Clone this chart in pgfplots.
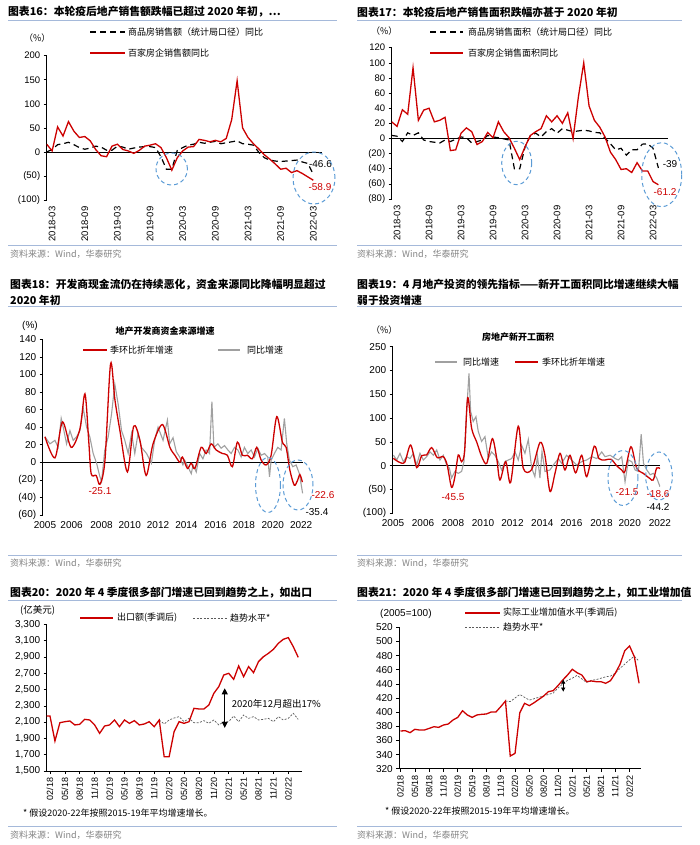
\documentclass[border=0pt]{standalone}
\usepackage{pgfplots}
\pgfplotsset{compat=1.18}
\usepackage{fontspec}
\setmainfont{Liberation Sans}
\newfontfamily\cjk{Noto Sans CJK SC}
\usetikzlibrary{arrows.meta}

\definecolor{hred}{RGB}{204,0,0}
\definecolor{hgrey}{RGB}{160,160,160}
\definecolor{hblue}{RGB}{91,155,213}
\definecolor{hrule}{RGB}{165,185,218}
\definecolor{hsrc}{RGB}{130,130,130}
\definecolor{htrend}{RGB}{90,90,90}

\pgfplotsset{
  hstyle/.style={
    scale only axis, anchor=south west,
    axis y line*=left, axis x line*=bottom,
    tick align=outside, major tick length=3pt,
    axis line style={line width=0.6pt},
    every tick/.style={black, line width=0.6pt},
    ticklabel style={font=\fontsize{9.5}{10}\selectfont},
    /pgf/number format/assume math mode=true,
  },
  nozero/.style={x axis line style={draw=none}, major x tick style={draw=none}},
}
\tikzset{
  T/.style={anchor=west, inner sep=0pt, font={\cjk\bfseries\fontsize{10.8}{12}\selectfont}},
  R/.style={draw=hrule, line width=0.8pt},
  S/.style={anchor=west, inner sep=0pt, text=hsrc, font={\cjk\fontsize{9}{10}\selectfont}},
  L/.style={anchor=west, inner sep=0pt, font={\cjk\fontsize{9}{10}\selectfont}},
  N/.style={inner sep=0pt, font={\fontsize{10}{11}\selectfont}},
  E/.style={draw=hblue, line width=1pt, dash pattern=on 4pt off 3pt},
  blk/.style={black, line width=1.2pt, dash pattern=on 6pt off 4pt},
  rd/.style={hred, line width=1.3pt},
  gy/.style={hgrey, line width=1.1pt},
  tr/.style={htrend, line width=0.7pt, dash pattern=on 2pt off 1.5pt},
}

\begin{document}
\begin{tikzpicture}
\useasboundingbox (0,0) rectangle (700pt,-845pt);

% ---------------- panel 16
\begin{axis}[hstyle, nozero, at={(46.7pt,-200pt)}, width=275.3pt, height=144.3pt,
  xmin=-1, xmax=49.6, ymin=-100, ymax=200,
  ytick={-100,-50,...,200}, yticklabels={(100),(50),0,50,100,150,200},
  xtick={0,6,...,48},
  xticklabels={2018-03,2018-09,2019-03,2019-09,2020-03,2020-09,2021-03,2021-09,2022-03},
  xticklabel style={rotate=90, anchor=east}]
\draw[black, line width=0.6pt] (axis cs:-1,0) -- (axis cs:49.6,0);
\addplot[blk] coordinates {(-1,0)(0,5)(1,15)(2,17)(3,20)(4,15)(5,9)(6,5.5)(7,8)(8,12)(9,10)(10,3.5)(11,3.5)(12,12)(13,10)(14,5.5)(15,8)(16,10)(17,11)(18,11)(19,9)(20,-10)(21,-36)(22,-36)(23,3)(24,9)(25,14)(26,16)(27,20)(28,18)(29,20)(30,22)(31,17)(32,19)(33,21)(34,23)(35,17)(36,16)(37,14)(38,-1)(39,-12)(40,-17)(41,-19)(42,-20)(43,-19)(44,-18)(45,-17)(46,-21)(47,-24)(48,-46.6)};
\addplot[rd] coordinates {(-1,16)(0,2)(1,52)(2,33)(3,63)(4,43)(5,30)(6,32)(7,23)(8,5)(9,-8)(10,-10)(11,12)(12,16)(13,5)(14,2)(15,-3)(16,3)(17,12)(18,14)(19,17)(20,9)(21,-12)(22,-38)(23,-12)(24,2)(25,10)(26,11)(27,26)(28,24)(29,21)(30,24)(31,21)(32,28)(33,67)(34,148)(35,50)(36,30)(37,17)(38,6)(39,-6)(40,-15)(41,-25)(42,-36)(43,-34)(44,-43)(45,-39)(46,-45)(47,-52)(48,-58.9)};
\end{axis}

% ---------------- panel 17
\begin{axis}[hstyle, nozero, at={(391.7pt,-199pt)}, width=276.3pt, height=151.3pt,
  xmin=-1, xmax=50.8, ymin=-80, ymax=120,
  ytick={-80,-60,...,120}, yticklabels={(80),(60),(40),(20),0,20,40,60,80,100,120},
  xtick={0,6,...,48},
  xticklabels={2018-03,2018-09,2019-03,2019-09,2020-03,2020-09,2021-03,2021-09,2022-03},
  xticklabel style={rotate=90, anchor=east}]
\draw[black, line width=0.6pt] (axis cs:-1,0) -- (axis cs:50.8,0);
\addplot[blk] coordinates {(-1,4)(0,3)(1,-4)(2,7.5)(3,4)(4,7.5)(5,-2)(6,-4)(8,-6)(9,-2)(10,-4)(12,2)(13,1)(14,-6)(16,-2)(17,4)(18,2)(19,1)(21,-2)(22,-40)(23,-40)(24,-11)(25,4)(26,7)(27,2)(28,9)(29,13)(30,7)(31,13)(32,11)(33,9)(35,11)(36,10)(37,8)(38,7.5)(40,-7)(41,-15)(42,-13)(43,-22)(44,-15)(45,-15)(46,-7.5)(47,-7)(48,-13)(49,-39)};
\addplot[rd] coordinates {(-1,22)(0,16)(1,38)(2,32)(3,93.5)(4,24)(5,37.5)(6,40)(7,22)(8,24)(9,28)(10,-16)(11,-15)(12,7)(13,14)(14,9)(15,-8)(16,-4)(17,8)(18,1)(19,22)(20,9)(21,1)(22,-13)(23,-28)(24,-11)(25,4)(26,9)(27,13)(28,30)(29,22)(30,30)(31,20)(32,34)(33,0)(34,55)(35,100)(36,43)(37,24)(38,15)(39,2)(40,-18)(41,-28)(42,-41)(43,-40)(44,-45)(45,-32)(46,-43)(47,-43)(48,-57)(49,-61.2)};
\end{axis}

% ---------------- panel 18
\begin{axis}[hstyle, nozero, at={(42.7pt,-515pt)}, width=260.3pt, height=175.7pt,
  xmin=-1.8, xmax=206.5, ymin=-60, ymax=140,
  ytick={-60,-40,...,140}, yticklabels={(60),(40),(20),0,20,40,60,80,100,120,140},
  xtick={0,21.3,45.3,67.9,90.5,113.2,136.5,159.2,182.3,205},
  xticklabels={2005,2006,2008,2010,2012,2014,2016,2018,2020,2022},
  ticklabel style={font=\fontsize{10}{11}\selectfont}]
\draw[black, line width=0.6pt] (axis cs:-1.8,0) -- (axis cs:206.5,0);
\addplot[gy] coordinates {(0,29)(4,21)(8,25)(10.6,17)(13,50)(14.6,40)(17.3,21)(20,36)(22.6,25)(25.3,29)(28,36)(30.6,62)(33.3,40)(35.9,29)(38.6,10)(41.3,-1)(43.9,-16)(45.3,-22)(47.9,14)(50.6,29)(53.3,55)(55.9,89)(58.6,66)(61.3,36)(63.9,25)(66.6,10)(69.3,33)(71.9,10)(74.5,33)(77.2,17)(81.3,10)(85.2,-1)(87.8,25)(90.5,40)(94.5,25)(98,48)(99.8,21)(102.5,28)(105.1,12)(107.8,6)(110.4,-3)(111.8,2.5)(114.4,-5)(117.1,-13)(118.5,-3)(121.1,-11)(123.8,10)(126.4,4)(129,14)(131.7,10)(133.6,69)(135.2,17)(138.4,21)(141,16)(143.7,19)(146.4,14)(149,10)(151.7,17)(154.4,14)(157,6)(159.6,17)(162.3,10)(165,14)(167.7,6)(170.3,16)(173,8)(175.7,10)(178.3,6)(179.7,-16.5)(181,2.5)(183.6,10)(186.3,17)(189,14)(191.6,50)(193.5,21)(195.6,2.5)(198.3,-5)(201,-3)(203.6,-13)(206.2,-35.4)};
\addplot[rd, smooth] coordinates {(0,29)(8,5)(14,46)(21,17)(28,38)(32,78)(35,25)(37,-13)(41,-15)(44,-25.1)(48,2)(52.5,112)(56,71)(60,36)(66,-11)(71,41)(76,25)(81,-15)(86.5,21)(94,43)(100,17)(104,8)(108,0)(110,6)(114,-7)(117,-1)(120,-7)(125,17)(129,10)(133,21)(137,14)(142,10)(146,8)(150,-5)(154,23)(158,8)(162,8)(166,4)(169.5,17)(173,2.5)(177,-3)(181,8)(185.5,52)(190,23)(193,17)(196,-9)(199.5,-26)(202,-21)(204,-14)(206,-22.6)};
\end{axis}

% ---------------- panel 19
\begin{axis}[hstyle, nozero, at={(392.7pt,-513.3pt)}, width=267.3pt, height=166.6pt,
  xmin=-0.23, xmax=207, ymin=-100, ymax=250,
  ytick={-100,-50,...,250}, yticklabels={(100),(50),0,50,100,150,200,250},
  xtick={0,23.3,46.5,69.8,92.6,115.8,138.3,161.6,183.5,206.9},
  xticklabels={2005,2006,2008,2010,2012,2014,2016,2018,2020,2022},
  ticklabel style={font=\fontsize{10}{11}\selectfont}]
\draw[black, line width=0.6pt] (axis cs:-0.23,0) -- (axis cs:207,0);
\addplot[gy] coordinates {(0.3,22)(2.9,12)(5.4,26)(8,8.5)(10.6,19)(13.2,15)(15.8,26)(18.3,1.5)(20.9,26)(23.5,12)(26.1,19)(28.7,29)(31.3,22)(33.9,33)(36.4,12)(39,22)(41.6,1.5)(43.7,-5)(45.4,-26)(48,-12)(50.6,-16)(53.2,-12)(55,8.5)(57.1,114)(58.9,194)(60.2,114)(62.2,93)(64.3,103)(66.1,72)(68.7,51)(71.3,61)(73.9,15)(76.4,29)(79,22)(81.6,8.5)(84.2,-9)(86.8,8.5)(89.4,12)(92,15)(94.6,29)(97.1,12)(99.7,43)(102.3,26)(104.9,55)(107.5,-5)(110,-23)(112,20)(113.9,-26)(115.5,30)(117.8,-12)(121.7,-9)(124.3,1.5)(128.2,15)(130.7,5)(134.6,22)(138.5,12)(142.4,1.5)(146.3,8.5)(150.2,12)(154.1,19)(158,15)(161.8,29)(164.4,19)(168.3,22)(172.2,15)(174.8,12)(177.3,19)(179.9,-34)(182.5,12)(185.1,8.5)(187.7,-9)(190.3,-12)(192.4,66)(194.2,5)(196.8,-9)(199.4,-19)(201.9,-16)(204.5,-26)(207,-44.2)};
\addplot[rd, smooth] coordinates {(0.3,15.5)(4,8.5)(9,7)(13.7,43.5)(18.4,-4)(22.2,21)(26,22.5)(30,38)(34.3,17)(39,19)(42,1.5)(45.4,-45.5)(48,-23)(50.6,22.5)(53.2,8.5)(55.5,30)(57.9,143)(61,78)(65,49)(68.8,19)(72.7,5)(77,57)(80.4,15.5)(82.9,-30)(87.4,8.5)(91.2,-35)(97.1,83)(101,-5.5)(107.5,-8)(114,49)(117.8,22)(121.7,-54)(125.6,-16)(129.5,26)(133.3,-9)(137.2,22)(141.6,-15)(146.3,22)(150.2,-23)(156,41)(159.7,15)(164.3,12)(169,13.7)(173.4,0)(177.3,-9)(179.8,-12)(184.5,40)(188.9,-5)(194,-16)(199.2,-27)(201.8,-30)(204.4,-5)(207,-6)};
\end{axis}

% ---------------- panel 20
\begin{axis}[hstyle, clip mode=individual, at={(46.7pt,-771pt)}, width=255pt, height=146.7pt,
  xmin=-0.66, xmax=50.7, ymin=1500, ymax=3300,
  ytick={1500,1700,...,3300}, scaled y ticks=false,
  yticklabel style={/pgf/number format/.cd, fixed, 1000 sep={,}},
  ticklabel style={font=\fontsize{10}{11}\selectfont},
  xtick={0,3,...,48},
  xticklabels={02/18,05/18,08/18,11/18,02/19,05/19,08/19,11/19,02/20,05/20,08/20,11/20,02/21,05/21,08/21,11/21,02/22},
  xticklabel style={rotate=90, anchor=east, font=\fontsize{9}{10}\selectfont}]
\addplot[tr] coordinates {(22,2126)(23,2077)(24,2126)(25,2150)(26,2167)(27,2105)(28,2146)(29,2093)(30,2093)(31,2118)(32,2085)(33,2126)(34,2065)(35,2105)(36,2105)(37,2175)(38,2105)(39,2187)(40,2146)(41,2167)(42,2126)(43,2134)(44,2146)(45,2105)(46,2167)(47,2126)(48,2146)(49,2208)(50,2134)};
\addplot[rd] coordinates {(-0.66,2175)(0,2175)(1,1868)(2,2093)(3,2105)(4,2114)(5,2065)(6,2073)(7,2134)(8,2126)(9,2065)(10,1962)(11,2052)(12,2065)(13,2126)(14,2044)(15,2126)(16,2085)(17,2118)(18,2065)(19,2077)(20,2105)(21,2044)(22,2126)(23,1676)(24,1676)(25,1983)(26,2105)(27,2085)(28,2105)(29,2269)(30,2261)(31,2261)(32,2310)(33,2453)(34,2535)(35,2678)(36,2699)(37,2625)(38,2789)(39,2658)(40,2781)(41,2707)(42,2842)(43,2903)(44,2944)(45,2993)(46,3067)(47,3116)(48,3137)(49,3026)(50,2895)};
\draw[{Triangle[width=6pt,length=6pt]}-{Triangle[width=6pt,length=6pt]}, line width=0.8pt] (axis cs:35.2,2515) -- (axis cs:35.2,2030);
\node[L, font={\cjk\fontsize{9.5}{10}\selectfont}] at (axis cs:36.6,2318) {2020年12月超出17\%};
\end{axis}

% ---------------- panel 21
\begin{axis}[hstyle, at={(399.3pt,-768.7pt)}, width=241.7pt, height=141.4pt,
  xmin=-0.25, xmax=50.4, ymin=320, ymax=520,
  ytick={320,340,...,520},
  ticklabel style={font=\fontsize{10}{11}\selectfont},
  xtick={0,3,...,48},
  xticklabels={02/18,05/18,08/18,11/18,02/19,05/19,08/19,11/19,02/20,05/20,08/20,11/20,02/21,05/21,08/21,11/21,02/22},
  xticklabel style={rotate=90, anchor=east, font=\fontsize{9}{10}\selectfont}]
\addplot[tr] coordinates {(22,415.7)(23,415)(24,420)(25,425)(26,421)(27,417)(28,419)(29,421)(30,423)(31,425)(32,427)(33,434)(34,440)(35,445)(36,448)(37,452)(38,447)(39,442)(40,445)(41,446)(42,448)(43,450)(44,451)(45,455)(46,462)(47,468)(48,474)(49,479)(50,472)};
\addplot[rd] coordinates {(0,373.3)(1,373.8)(2,371)(3,375.7)(4,374.7)(5,374.7)(6,377)(7,379.4)(8,378.5)(9,381.8)(10,383.2)(11,388.9)(12,392.6)(13,402)(14,396)(15,392.6)(16,396)(17,396.9)(18,397.4)(19,400.2)(20,400.2)(21,407.7)(22,415.7)(23,337.9)(24,341.7)(25,399.2)(26,412.5)(27,409.2)(28,413.4)(29,418.1)(30,422.8)(31,429)(32,430.4)(33,437.5)(34,445.5)(35,452.5)(36,460.6)(37,455.8)(38,452.5)(39,443.1)(40,444.1)(41,443.1)(42,443.1)(43,440.8)(44,444.5)(45,454.9)(46,467.6)(47,487)(48,493.6)(49,478.5)(50,440.8)};
\draw[{Triangle[width=4pt,length=4pt]}-{Triangle[width=4pt,length=4pt]}, line width=0.7pt] (axis cs:34.1,446) -- (axis cs:34.1,429);
\end{axis}

% ---------------- titles, rules, sources
\node[T] at (8pt,-12pt) {图表16：本轮疫后地产销售额跌幅已超过 2020 年初，…};
\node[T] at (357pt,-12pt) {图表17：本轮疫后地产销售面积跌幅亦甚于 2020 年初};
\draw[R] (8pt,-20pt) -- (337pt,-20pt);
\draw[R] (357pt,-20pt) -- (682pt,-20pt);
\draw[R] (8pt,-245pt) -- (337pt,-245pt);
\draw[R] (357pt,-245pt) -- (682pt,-245pt);
\node[S] at (10pt,-254pt) {资料来源：Wind，华泰研究};
\node[S] at (357pt,-254pt) {资料来源：Wind，华泰研究};

\node[T] at (10pt,-284.3pt) {图表18：开发商现金流仍在持续恶化，资金来源同比降幅明显超过};
\node[T] at (10pt,-300.5pt) {2020 年初};
\node[T] at (357pt,-284.3pt) {图表19：4 月地产投资的领先指标——新开工面积同比增速继续大幅};
\node[T] at (357pt,-300.5pt) {弱于投资增速};
\draw[R] (8pt,-306.7pt) -- (337pt,-306.7pt);
\draw[R] (357pt,-306.7pt) -- (682pt,-306.7pt);
\draw[R] (8pt,-555pt) -- (337pt,-555pt);
\draw[R] (357pt,-555pt) -- (682pt,-555pt);
\node[S] at (10pt,-563pt) {资料来源：Wind，华泰研究};
\node[S] at (357pt,-563pt) {资料来源：Wind，华泰研究};

\node[T] at (10pt,-592.3pt) {图表20：2020 年 4 季度很多部门增速已回到趋势之上，如出口};
\node[T] at (357pt,-592.3pt) {图表21：2020 年 4 季度很多部门增速已回到趋势之上，如工业增加值};
\draw[R] (8pt,-600pt) -- (337pt,-600pt);
\draw[R] (357pt,-600pt) -- (682pt,-600pt);
\draw[R] (8pt,-826.7pt) -- (337pt,-826.7pt);
\draw[R] (357pt,-826.7pt) -- (682pt,-826.7pt);
\node[S] at (10pt,-835pt) {资料来源：Wind，华泰研究};
\node[S] at (357pt,-835pt) {资料来源：Wind，华泰研究};

% ---------------- panel 16 extras
\node[L] at (24pt,-38pt) {（\%）};
\draw[blk] (90pt,-32pt) -- (125pt,-32pt);
\node[L] at (128pt,-32pt) {商品房销售额（统计局口径）同比};
\draw[rd] (90pt,-53pt) -- (125pt,-53pt);
\node[L] at (128pt,-53pt) {百家房企销售额同比};
\node[N] at (320.5pt,-164pt) {-46.6};
\node[N, text=hred] at (320pt,-187pt) {-58.9};
\draw[E] (171.7pt,-169pt) ellipse (15.7pt and 16pt);
\draw[E] (314pt,-178pt) ellipse (21pt and 26pt);

% ---------------- panel 17 extras
\node[L] at (371pt,-31pt) {（\%）};
\draw[blk] (430pt,-32pt) -- (463pt,-32pt);
\node[L] at (468pt,-32pt) {商品房销售面积（统计局口径）同比};
\draw[rd] (430pt,-53pt) -- (463pt,-53pt);
\node[L] at (468pt,-53pt) {百家房企销售面积同比};
\node[N] at (670pt,-164pt) {-39};
\node[N, text=hred] at (665pt,-192pt) {-61.2};
\draw[E] (516.7pt,-163pt) ellipse (15pt and 21.7pt);
\draw[E] (661.7pt,-174.7pt) ellipse (20pt and 32pt);

% ---------------- panel 18 extras
\node[N] at (30pt,-326pt) {(\%)};
\node[inner sep=0pt, font={\cjk\bfseries\fontsize{9}{10}\selectfont}] at (165pt,-331pt) {地产开发商资金来源增速};
\draw[rd] (83pt,-350pt) -- (107pt,-350pt);
\node[L] at (110pt,-350pt) {季环比折年增速};
\draw[gy] (218pt,-350pt) -- (240pt,-350pt);
\node[L] at (247pt,-350pt) {同比增速};
\node[N, text=hred] at (100pt,-491pt) {-25.1};
\node[N, text=hred] at (323pt,-495pt) {-22.6};
\node[N] at (317pt,-511.7pt) {-35.4};
\draw[E] (268pt,-485pt) ellipse (12.5pt and 27.5pt);
\draw[E] (298pt,-485pt) ellipse (15pt and 25pt);

% ---------------- panel 19 extras
\node[L] at (371pt,-330pt) {（\%）};
\node[inner sep=0pt, font={\cjk\bfseries\fontsize{9}{10}\selectfont}] at (518pt,-337pt) {房地产新开工面积};
\draw[gy] (435pt,-362pt) -- (457pt,-362pt);
\node[L] at (463pt,-362pt) {同比增速};
\draw[rd] (515pt,-362pt) -- (538pt,-362pt);
\node[L] at (542pt,-362pt) {季环比折年增速};
\node[N, text=hred] at (453pt,-496.7pt) {-45.5};
\node[N, text=hred] at (627pt,-492pt) {-21.5};
\node[N, text=hred] at (658pt,-494pt) {-18.6};
\node[N] at (658pt,-507pt) {-44.2};
\draw[E] (623pt,-478pt) ellipse (15pt and 27.5pt);
\draw[E] (659pt,-476pt) ellipse (13.3pt and 24pt);

% ---------------- panel 20 extras
\node[L, font={\cjk\fontsize{9.5}{10}\selectfont}] at (20pt,-610.7pt) {(亿美元)};
\draw[rd] (80pt,-618pt) -- (113pt,-618pt);
\node[L] at (117pt,-618pt) {出口额(季调后)};
\draw[tr] (193pt,-618pt) -- (227pt,-618pt);
\node[L] at (230pt,-618pt) {趋势水平*};
\node[L] at (23pt,-813pt) {* 假设2020-22年按照2015-19年平均增速增长。};

% ---------------- panel 21 extras
\node[N, anchor=west] at (380pt,-614pt) {(2005=100)};
\draw[rd] (465pt,-613pt) -- (500pt,-613pt);
\node[L] at (503pt,-613pt) {实际工业增加值水平(季调后)};
\draw[tr] (465pt,-627pt) -- (500pt,-627pt);
\node[L] at (503pt,-627pt) {趋势水平*};
\node[L] at (385pt,-810.7pt) {* 假设2020-22年按照2015-19年平均增速增长。};
\end{tikzpicture}
\end{document}
